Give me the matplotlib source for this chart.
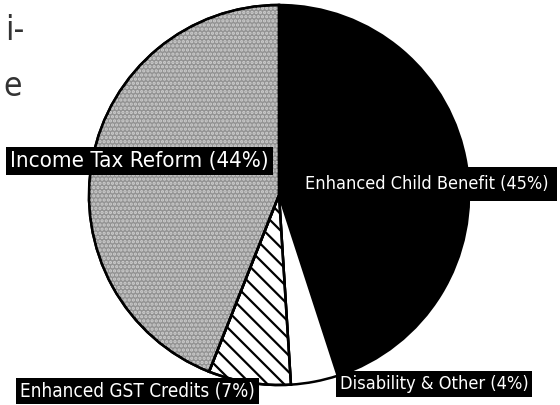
import matplotlib
matplotlib.use("Agg")
import matplotlib.pyplot as plt
from matplotlib.patches import Wedge

labels = ["Enhanced Child Benefit", "Disability & Other", "Enhanced GST Credits", "Income Tax Reform"]
shares = [45, 4, 7, 44]
colors = ["black", "white", "white", "#939393"]

# where the label boxes sit, in pixels of the 560x405 picture (left x, centre y), and text size
label_pos = [(305, 184), (340, 384), (20, 391), (10, 161)]
label_size = [13, 13.1, 13.6, 16]
label_pad = [0.45, 0.2, 0.2, 0.2]

W, H = 560, 405
fig = plt.figure(figsize=(5.6, 4.05), dpi=100)

cx, cy, r = 279, 195, 190
lim = 1.01
ax = fig.add_axes([(cx - r * lim) / W, (H - cy - r * lim) / H, 2 * r * lim / W, 2 * r * lim / H])

wedges, _ = ax.pie(shares, colors=colors, startangle=90, counterclock=False,
                   wedgeprops=dict(edgecolor="black", linewidth=1.8))
ax.set_xlim(-lim, lim)
ax.set_ylim(-lim, lim)
ax.set_aspect("equal")
ax.axis("off")

# textures: grey mottle for income tax, dotted diagonals for GST
tex = {3: ("....", "#cfcfcf"), 2: ("\\\\", "black")}
plt.rcParams["hatch.linewidth"] = 1.6
for i, (hatch, hc) in tex.items():
    w = wedges[i]
    ax.add_patch(Wedge(w.center, w.r, w.theta1, w.theta2, fill=False,
                       hatch=hatch, edgecolor=hc, linewidth=0))
    ax.add_patch(Wedge(w.center, w.r, w.theta1, w.theta2, fill=False,
                       edgecolor="black", linewidth=1.8))

for lab, s, (x, y), fs, pad in zip(labels, shares, label_pos, label_size, label_pad):
    fig.text(x / W, 1 - y / H, f"{lab} ({s}%)", color="white", fontsize=fs,
             family="DejaVu Sans", fontstretch="condensed", ha="left", va="center",
             bbox=dict(boxstyle=f"square,pad={pad}", facecolor="black", edgecolor="none"))

# cut-off fragments of the page text at the left edge
fig.text(24 / W, 1 - 30 / H, "i-", fontsize=24, family="DejaVu Sans", fontstretch="condensed",
         fontweight="light", ha="right", va="center", color="#333333")
fig.text(22 / W, 1 - 86 / H, "e", fontsize=24, family="DejaVu Sans", fontstretch="condensed",
         fontweight="light", ha="right", va="center", color="#333333")

fig.savefig("out.png", dpi=100)
